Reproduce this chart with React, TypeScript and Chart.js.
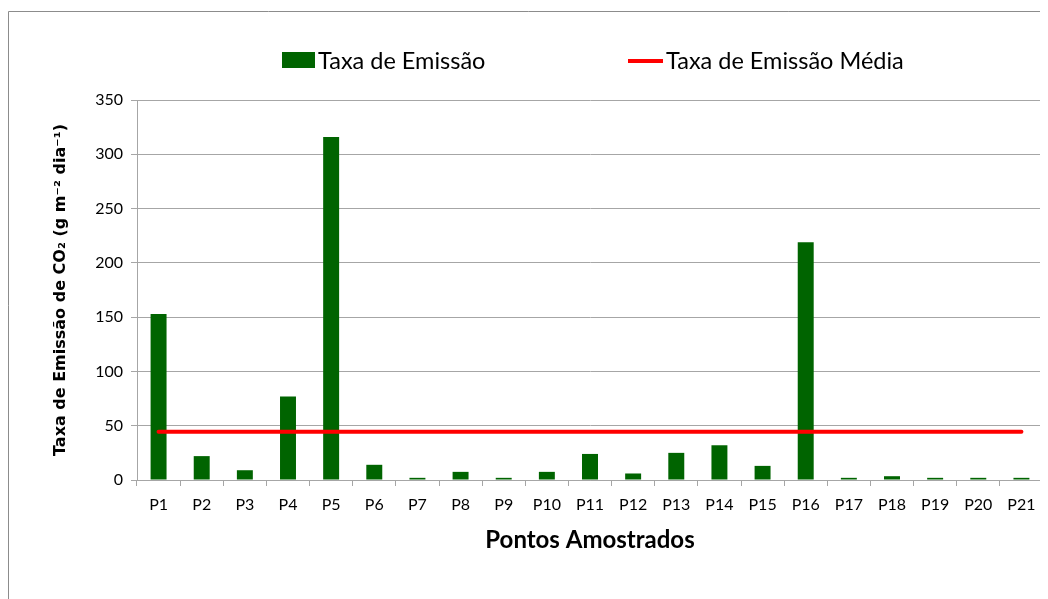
import React, { useEffect, useRef } from "react";
import { Chart, registerables } from "chart.js";

Chart.register(...registerables);

const categories = ["P1", "P2", "P3", "P4", "P5", "P6", "P7", "P8", "P9", "P10", "P11", "P12", "P13", "P14", "P15", "P16", "P17", "P18", "P19", "P20", "P21"];
const emissionRates = [153, 22, 9, 77, 316, 14, 2, 7.5, 2, 7.5, 24, 6, 25, 32, 13, 219, 2, 3.5, 2, 2, 2];
const meanRates = [44.5, 44.5, 44.5, 44.5, 44.5, 44.5, 44.5, 44.5, 44.5, 44.5, 44.5, 44.5, 44.5, 44.5, 44.5, 44.5, 44.5, 44.5, 44.5, 44.5, 44.5];
const yTickValues = [0, 50, 100, 150, 200, 250, 300, 350];

const seriesLabels = ["Taxa de Emissão", "Taxa de Emissão Média"];
const xTitle = "Pontos Amostrados";
const yTitle = "Taxa de Emissão de CO₂ (g m⁻² dia⁻¹)";

const GREEN = "#006400";
const RED = "#ff0000";
const GRID = "#a6a6a6";
const FONT = "Lato, 'DejaVu Sans', sans-serif";
const TITLE_FONT = "'DejaVu Sans', sans-serif";

const framePlugin = {
  id: "frame",
  beforeDraw(chart: any) {
    const { ctx, width, height } = chart;
    ctx.save();
    ctx.fillStyle = "#ffffff";
    ctx.fillRect(0, 0, width, height);
    ctx.strokeStyle = "#8c8c8c";
    ctx.lineWidth = 1;
    ctx.beginPath();
    ctx.moveTo(0.5, height);
    ctx.lineTo(0.5, 3.5);
    ctx.lineTo(width, 3.5);
    ctx.stroke();
    ctx.restore();
  },
};

const legendPlugin = {
  id: "customLegend",
  afterDraw(chart: any) {
    const { ctx } = chart;
    const ds = chart.data.datasets;
    ctx.save();
    ctx.font = `23.5px ${FONT}`;
    ctx.textBaseline = "middle";
    // bar item
    ctx.fillStyle = ds[1].backgroundColor;
    ctx.fillRect(274, 44, 33, 16);
    ctx.fillStyle = "#000000";
    ctx.fillText(ds[1].label, 310, 53);
    // line item
    ctx.strokeStyle = ds[0].borderColor;
    ctx.lineWidth = 4;
    ctx.beginPath();
    ctx.moveTo(620, 53);
    ctx.lineTo(655, 53);
    ctx.stroke();
    ctx.fillText(ds[0].label, 658, 53);
    ctx.restore();
  },
};

export default function App() {
  const ref = useRef<HTMLCanvasElement | null>(null);

  useEffect(() => {
    if (!ref.current) return;
    const chart = new Chart(ref.current, {
      type: "bar",
      data: {
        labels: categories,
        datasets: [
          {
            type: "line",
            label: seriesLabels[1],
            data: meanRates,
            borderColor: RED,
            backgroundColor: RED,
            borderWidth: 4,
            pointRadius: 0,
            borderCapStyle: "round",
            fill: false,
            order: 0,
          } as any,
          {
            type: "bar",
            label: seriesLabels[0],
            data: emissionRates,
            backgroundColor: GREEN,
            borderWidth: 0,
            barPercentage: 0.37,
            categoryPercentage: 1,
            order: 1,
          },
        ],
      },
      options: {
        responsive: false,
        animation: false,
        layout: { padding: { top: 92, right: 5, left: 0, bottom: 0 } },
        plugins: {
          legend: { display: false },
          tooltip: { enabled: false },
        },
        scales: {
          x: {
            offset: true,
            grid: {
              display: true,
              offset: true,
              drawOnChartArea: false,
              drawTicks: true,
              tickLength: 6,
              color: GRID,
            },
            border: { display: true, color: GRID },
            ticks: {
              color: "#000000",
              font: { family: FONT, size: 16 },
              padding: 9,
              maxRotation: 0,
              autoSkip: false,
            },
            title: {
              display: true,
              text: xTitle,
              color: "#000000",
              font: { family: FONT, size: 24, weight: "bold" },
              padding: { top: 0, bottom: 44 },
            },
            afterFit(scale: any) {
              scale.height = 119;
            },
          },
          y: {
            min: 0,
            max: 350,
            grid: {
              color: GRID,
              tickLength: 6,
            },
            border: { display: true, color: GRID },
            ticks: {
              color: "#000000",
              font: { family: FONT, size: 16 },
              padding: 8,
            },
            afterBuildTicks(scale: any) {
              scale.ticks = yTickValues.map((v) => ({ value: v }));
            },
            title: {
              display: true,
              text: yTitle,
              color: "#000000",
              font: { family: TITLE_FONT, size: 16, weight: "bold" },
              padding: { top: 43, bottom: 0 },
            },
            afterFit(scale: any) {
              scale.width = 129;
            },
          },
        },
      },
      plugins: [framePlugin, legendPlugin],
    });
    return () => chart.destroy();
  }, []);

  return <canvas ref={ref} width={1040} height={591} style={{ display: "block" }} />;
}
